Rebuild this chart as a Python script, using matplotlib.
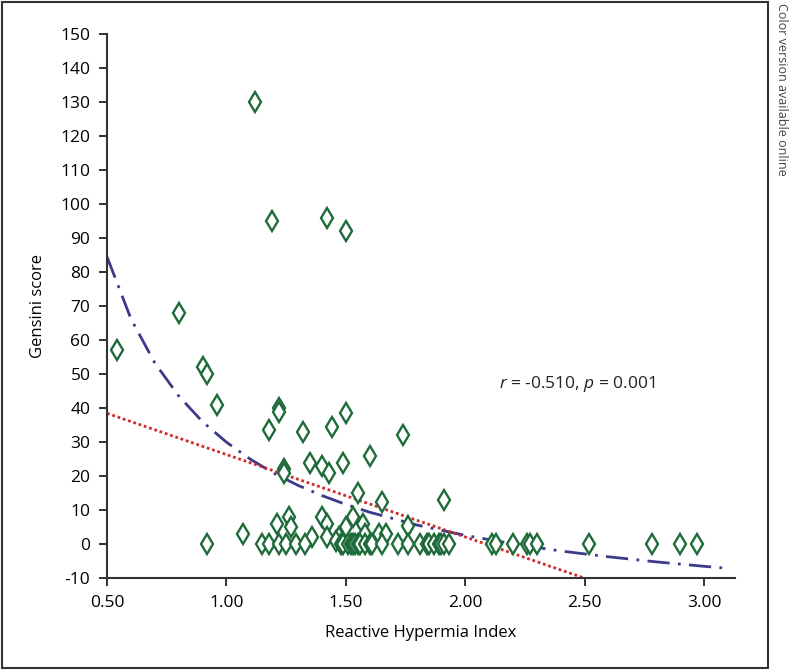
import matplotlib.pyplot as plt
from matplotlib.patches import Rectangle

plt.rcParams['font.family'] = ['Open Sans', 'DejaVu Sans']
plt.rcParams['mathtext.fontset'] = 'custom'
plt.rcParams['mathtext.rm'] = 'Open Sans'
plt.rcParams['mathtext.it'] = 'Open Sans:italic'
plt.rcParams['axes.unicode_minus'] = False

# scatter points (RHI, Gensini score)
rhi = [1.12, 1.19, 1.42, 1.50,
       0.80, 0.54, 0.90, 0.92, 0.96,
       1.22, 1.22, 1.18, 1.32, 1.44, 1.50, 1.74,
       1.35, 1.40, 1.43, 1.49, 1.60, 1.24, 1.24,
       1.55, 1.65, 1.91,
       1.07, 1.21, 1.26, 1.27, 1.36, 1.40, 1.42, 1.42, 1.47, 1.50,
       1.53, 1.57, 1.58, 1.64, 1.67, 1.76, 1.46,
       0.92, 1.15, 1.18, 1.22, 1.25, 1.29, 1.33, 1.48, 1.49, 1.51,
       1.52, 1.53, 1.54, 1.55, 1.56, 1.58, 1.60, 1.61, 1.65, 1.72,
       1.76, 1.81, 1.84, 1.85, 1.87, 1.89, 1.90, 1.91, 1.93, 2.11,
       2.13, 2.20, 2.26, 2.27, 2.30, 2.52, 2.78, 2.90, 2.97]
gensini = [130, 95, 96, 92,
           68, 57, 52, 50, 41,
           40, 39, 33.5, 33, 34.5, 38.5, 32,
           24, 23, 21, 24, 26, 22, 21,
           15, 12.5, 13,
           3, 6, 8, 5, 2, 8, 6, 2, 2, 5,
           8, 6, 3, 3, 3, 5.5, 1,
           0, 0, 0, 0, 0, 0, 0, 0, 0, 0,
           0, 0, 0, 0, 0, 0, 0, 0, 0, 0,
           0, 0, 0, 0, 0, 0, 0, 0, 0, 0,
           0, 0, 0, 0, 0, 0, 0, 0, 0]

# linear fit line (red dotted)
lin_x = [0.5, 2.5]
lin_y = [38.5, -10]

# curved fit (blue dash-dot)
curve_x = [0.5, 0.6, 0.7, 0.8, 0.9, 1.0, 1.1, 1.2, 1.3, 1.4, 1.5, 1.6,
           1.8, 2.0, 2.2, 2.4, 2.6, 2.8, 3.0, 3.1]
curve_y = [84.5, 66.3, 53.3, 43.6, 36.0, 30.0, 25.0, 20.8, 17.3, 14.3,
           11.7, 9.4, 5.6, 2.6, 0.1, -2.0, -3.7, -5.2, -6.5, -7.1]

x_ticks = [0.5, 1.0, 1.5, 2.0, 2.5, 3.0]
y_ticks = list(range(-10, 151, 10))

fig = plt.figure(figsize=(7.93, 6.70), dpi=100)
ax = fig.add_axes([0.135, 0.137, 0.792, 0.812])

ax.plot(curve_x, curve_y, color='#3c3a8a', lw=2, ls=(0, (8, 3, 1, 3)), zorder=2)
ax.plot(lin_x, lin_y, color='#d02a2a', lw=2, ls=(0, (1, 1)), zorder=2)
ax.plot(rhi, gensini, ls='none', marker='d', ms=10.5, mfc='white',
        mec='#1e6b3a', mew=1.7, zorder=3)

ax.text(2.14, 47, r'$\mathit{r}$ = -0.510, $\mathit{p}$ = 0.001',
        fontsize=12.5, va='center', ha='left', color='#222222')

ax.set_xlim(0.5, 3.13)
ax.set_ylim(-10, 150)
ax.set_xticks(x_ticks)
ax.set_xticklabels([f'{t:.2f}' for t in x_ticks])
ax.set_yticks(y_ticks)
ax.tick_params(labelsize=12.5, length=6, width=1.4, color='#333333', pad=6)
ax.spines['top'].set_visible(False)
ax.spines['right'].set_visible(False)
for s in ['left', 'bottom']:
    ax.spines[s].set_linewidth(1.5)
    ax.spines[s].set_color('#333333')

ax.set_xlabel('Reactive Hypermia Index', fontsize=12, labelpad=10)
ax.set_ylabel('Gensini score', fontsize=12, labelpad=10)

fig.patches.append(Rectangle((0.002, 0.003), 0.966, 0.994, transform=fig.transFigure,
                             fill=False, ec='#333333', lw=1.5))
fig.text(0.986, 0.995, 'Color version available online', rotation=270,
         ha='center', va='top', fontsize=9, color='#444444')

plt.savefig('out.png', dpi=100)
